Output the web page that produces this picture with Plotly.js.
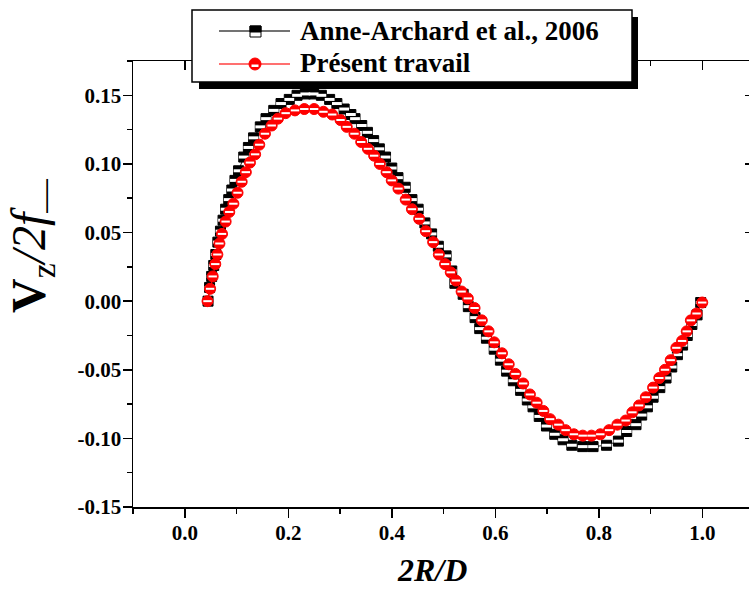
<!DOCTYPE html>
<html>
<head>
<meta charset="utf-8">
<script src="https://cdn.plot.ly/plotly-3.0.1.min.js"></script>
<style>
html,body{margin:0;padding:0;width:749px;height:595px;overflow:hidden;background:#fff;}
#chart{width:760px;height:595px;}
</style>
</head>
<body>
<div id="chart"></div>
<script>
// ---- data ----
const seriesNames = ["Anne-Archard et al., 2006", "Présent travail"];

const xAnne = [0.045,0.048,0.052,0.056,0.060,0.064,0.069,0.074,0.079,0.085,
  0.091,0.097,0.104,0.114,0.123,0.133,0.146,0.157,0.172,0.186,
  0.202,0.217,0.233,0.249,0.264,0.280,0.294,0.308,0.321,0.329,
  0.342,0.353,0.365,0.376,0.388,0.400,0.412,0.426,0.439,0.451,
  0.464,0.477,0.490,0.505,0.516,0.522,0.538,0.548,0.561,0.570,
  0.583,0.598,0.610,0.622,0.635,0.649,0.662,0.673,0.685,0.699,
  0.715,0.731,0.748,0.769,0.789,0.815,0.838,0.854,0.872,0.883,
  0.894,0.905,0.918,0.930,0.941,0.952,0.962,0.971,0.980,0.990,
  0.997];
const yAnne = [0.000,0.010,0.018,0.026,0.034,0.043,0.051,0.059,0.067,0.074,
  0.081,0.088,0.095,0.105,0.112,0.119,0.127,0.133,0.139,0.144,
  0.147,0.150,0.151,0.151,0.150,0.147,0.144,0.140,0.136,0.133,
  0.128,0.123,0.117,0.111,0.105,0.097,0.090,0.083,0.074,0.067,
  0.057,0.049,0.040,0.033,0.022,0.013,0.005,-0.004,-0.012,-0.020,
  -0.027,-0.035,-0.043,-0.051,-0.058,-0.065,-0.072,-0.077,-0.084,-0.091,
  -0.097,-0.101,-0.105,-0.106,-0.106,-0.105,-0.102,-0.095,-0.090,-0.083,
  -0.077,-0.070,-0.063,-0.056,-0.048,-0.039,-0.032,-0.025,-0.017,-0.010,
  -0.001];

const xPresent = [0.044,0.049,0.054,0.059,0.063,0.067,0.072,0.079,0.086,0.094,
  0.102,0.110,0.118,0.126,0.136,0.144,0.155,0.168,0.180,0.195,
  0.213,0.231,0.250,0.268,0.285,0.301,0.313,0.328,0.341,0.354,
  0.366,0.377,0.390,0.400,0.413,0.427,0.439,0.453,0.466,0.480,
  0.491,0.503,0.514,0.524,0.535,0.547,0.560,0.574,0.587,0.598,
  0.613,0.626,0.639,0.654,0.667,0.680,0.693,0.706,0.722,0.736,
  0.752,0.769,0.786,0.803,0.820,0.836,0.852,0.865,0.878,0.891,
  0.905,0.917,0.928,0.939,0.950,0.961,0.970,0.978,0.989,1.000];
const yPresent = [0.000,0.009,0.018,0.027,0.034,0.042,0.049,0.058,0.065,0.071,
  0.079,0.087,0.094,0.101,0.107,0.114,0.122,0.128,0.133,0.137,
  0.139,0.140,0.140,0.138,0.136,0.132,0.127,0.122,0.116,0.111,
  0.106,0.100,0.094,0.088,0.082,0.074,0.067,0.060,0.051,0.043,
  0.034,0.027,0.021,0.015,0.007,0.002,-0.005,-0.014,-0.022,-0.030,
  -0.038,-0.046,-0.053,-0.060,-0.068,-0.074,-0.080,-0.086,-0.090,-0.094,
  -0.097,-0.098,-0.098,-0.097,-0.094,-0.090,-0.087,-0.081,-0.076,-0.070,
  -0.063,-0.056,-0.050,-0.043,-0.034,-0.029,-0.022,-0.014,-0.009,-0.001];

const xTickVals = [0.0,0.2,0.4,0.6,0.8,1.0];
const xTickText = ["0.0","0.2","0.4","0.6","0.8","1.0"];
const yTickVals = [-0.15,-0.10,-0.05,0.00,0.05,0.10,0.15];
const yTickText = ["-0.15","-0.10","-0.05","0.00","0.05","0.10","0.15"];
const xTitle = "<b><i>2R/D</i></b>";
const yTitle = "<b>V</b><sub>z</sub><i>/2f</i><sub>—</sub>";

// ---- layout geometry (pixels) ----
const W = 760, H = 595, ML = 133, MR = 6, MT = 61, MB = 88;
const PW = W - ML - MR, PH = H - MT - MB;
const px = v => (v - ML) / PW;          // pixel x -> paper
const py = v => (H - MB - v) / PH;      // pixel y -> paper

const FONT = "Liberation Serif, Times New Roman, Times, serif";

const traces = [
  {x: xAnne, y: yAnne, name: seriesNames[0], mode: "lines+markers",
   line: {color: "#222", width: 1},
   marker: {symbol: "square", size: 10, color: "#000", line: {color: "#000", width: 1}},
   showlegend: false},
  {x: xAnne, y: yAnne, mode: "markers", hoverinfo: "skip", showlegend: false,
   marker: {symbol: "line-ew", size: 7, line: {color: "#fff", width: 3}}},
  {x: xPresent, y: yPresent, name: seriesNames[1], mode: "lines+markers",
   line: {color: "#ff0000", width: 1},
   marker: {symbol: "circle", size: 11, color: "#ff0000", line: {color: "#ff0000", width: 1}},
   showlegend: false},
  {x: xPresent, y: yPresent, mode: "markers", hoverinfo: "skip", showlegend: false,
   marker: {symbol: "line-ew", size: 6, line: {color: "#fff", width: 2}}},
  {x: [], y: [], xaxis: "x2", yaxis: "y2", showlegend: false, hoverinfo: "skip"}
];

const tickFont = {family: FONT, size: 21, color: "#000", weight: "bold"};
const xr = [-0.1, 1.1], yr = [-0.15, 0.175];

const layout = {
  width: W, height: H,
  margin: {l: ML, r: MR, t: MT, b: MB, pad: 0},
  paper_bgcolor: "#fff", plot_bgcolor: "#fff",
  showlegend: false,
  xaxis: {range: xr, showgrid: false, zeroline: false,
    showline: true, linecolor: "#000", linewidth: 1.5,
    ticks: "outside", ticklen: 9, tickwidth: 1.5, tickcolor: "#000",
    tickvals: xTickVals, ticktext: xTickText, tickfont: tickFont,
    ticklabelstandoff: -3,
    minor: {dtick: 0.1, tick0: 0, ticks: "outside", ticklen: 5, tickwidth: 1.5, tickcolor: "#000", showgrid: false}},
  yaxis: {range: yr, showgrid: false, zeroline: false,
    showline: true, linecolor: "#000", linewidth: 1.5,
    ticks: "outside", ticklen: 9, tickwidth: 1.5, tickcolor: "#000",
    tickvals: yTickVals, ticktext: yTickText, tickfont: tickFont,
    ticklabelstandoff: -3,
    minor: {dtick: 0.025, tick0: 0, ticks: "outside", ticklen: 5, tickwidth: 1.5, tickcolor: "#000", showgrid: false}},
  xaxis2: {range: xr, overlaying: "x", side: "top", anchor: "y2",
    showgrid: false, zeroline: false, showline: true, linecolor: "#000", linewidth: 1.5,
    ticks: "inside", ticklen: 9, tickwidth: 1.5, tickcolor: "#000",
    tickvals: xTickVals, showticklabels: false,
    minor: {dtick: 0.1, tick0: 0, ticks: "inside", ticklen: 5, tickwidth: 1.5, tickcolor: "#000", showgrid: false}},
  yaxis2: {range: yr, overlaying: "y", side: "right", anchor: "x2",
    showgrid: false, zeroline: false, showline: true, linecolor: "#000", linewidth: 1.5,
    ticks: "inside", ticklen: 9, tickwidth: 1.5, tickcolor: "#000",
    tickvals: yTickVals, showticklabels: false,
    minor: {dtick: 0.025, tick0: 0, ticks: "inside", ticklen: 5, tickwidth: 1.5, tickcolor: "#000", showgrid: false}},
  shapes: [
    // legend shadow + box
    {type: "rect", xref: "paper", yref: "paper", layer: "above",
     x0: px(199), x1: px(638), y0: py(17), y1: py(89), fillcolor: "#000", line: {width: 0}},
    {type: "rect", xref: "paper", yref: "paper", layer: "above",
     x0: px(192), x1: px(632), y0: py(10), y1: py(82), fillcolor: "#fff", line: {color: "#000", width: 1.5}},
    // legend sample lines
    {type: "line", xref: "paper", yref: "paper", layer: "above",
     x0: px(219), x1: px(290), y0: py(31), y1: py(31), line: {color: "#444", width: 1.5}},
    {type: "line", xref: "paper", yref: "paper", layer: "above",
     x0: px(219), x1: px(290), y0: py(64), y1: py(64), line: {color: "#ff4040", width: 1.5}},
    // legend square marker (half filled)
    {type: "rect", xref: "paper", yref: "paper", layer: "above",
     x0: px(250), x1: px(261), y0: py(26), y1: py(37), fillcolor: "#fff", line: {color: "#000", width: 1}},
    {type: "rect", xref: "paper", yref: "paper", layer: "above",
     x0: px(250), x1: px(261), y0: py(26), y1: py(32), fillcolor: "#000", line: {color: "#000", width: 1}},
    // legend circle marker (half filled)
    {type: "circle", xref: "paper", yref: "paper", layer: "above",
     x0: px(249), x1: px(261), y0: py(58), y1: py(70), fillcolor: "#ff0000", line: {color: "#ff0000", width: 1}},
    {type: "rect", xref: "paper", yref: "paper", layer: "above",
     x0: px(251.5), x1: px(258.5), y0: py(64.5), y1: py(67), fillcolor: "#fff", line: {width: 0}}
  ],
  annotations: [
    {xref: "paper", yref: "paper", x: px(298), y: py(31), xanchor: "left", yanchor: "middle",
     showarrow: false, text: "<b>" + seriesNames[0] + "</b>",
     font: {family: FONT, size: 27, color: "#000"}},
    {xref: "paper", yref: "paper", x: px(298), y: py(63), xanchor: "left", yanchor: "middle",
     showarrow: false, text: "<b>" + seriesNames[1] + "</b>",
     font: {family: FONT, size: 27, color: "#000"}},
    {xref: "paper", yref: "paper", x: px(432), y: py(570), xanchor: "center", yanchor: "middle",
     showarrow: false, text: xTitle, font: {family: FONT, size: 32, color: "#000"}},
    {xref: "paper", yref: "paper", x: px(32), y: py(246), xanchor: "center", yanchor: "middle",
     showarrow: false, textangle: -90, text: yTitle, font: {family: FONT, size: 48, color: "#000"}}
  ]
};

Plotly.newPlot("chart", traces, layout, {staticPlot: true, displayModeBar: false}).then(gd => {
  // drop the empty placeholder title nodes Plotly creates for untitled axes
  gd.querySelectorAll("text").forEach(t => {
    if (!t.textContent || !t.textContent.trim()) t.remove();
  });
});
</script>
</body>
</html>
